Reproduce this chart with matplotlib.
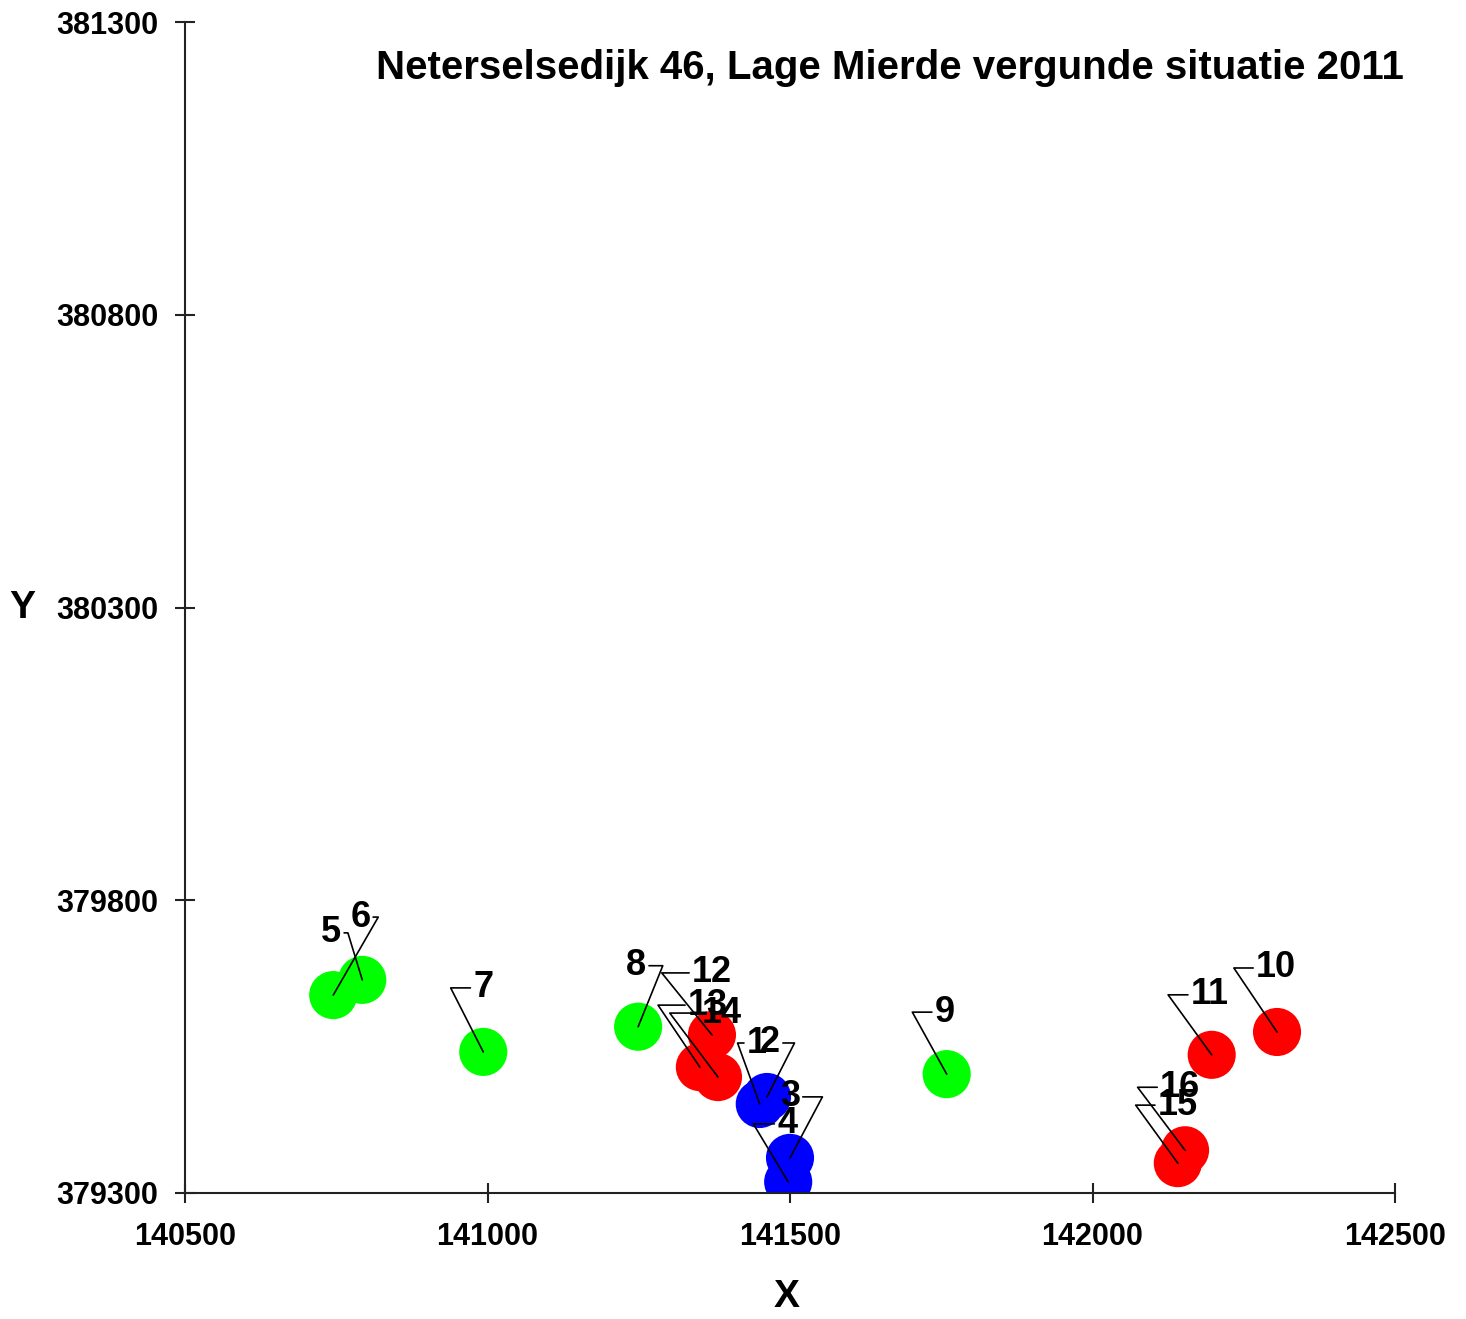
import matplotlib
matplotlib.use('Agg')
import matplotlib.pyplot as plt

plt.rcParams['font.family'] = ['Liberation Sans', 'DejaVu Sans']
plt.rcParams['font.weight'] = 'bold'

titel = 'Neterselsedijk 46, Lage Mierde vergunde situatie 2011'

### bronnen / receptoren ###
nummers = [1, 2, 3, 4, 5, 6, 7, 8, 9, 10, 11, 12, 13, 14, 15, 16]
x_coord = [141450, 141462, 141500, 141497, 140793, 140745, 140993, 141249,
           141759, 142305, 142197, 141371, 141351, 141381, 142141, 142153]
y_coord = [379452, 379464, 379360, 379319, 379664, 379638, 379541, 379584,
           379503, 379575, 379536, 379570, 379515, 379498, 379351, 379373]
groep = ['blauw'] * 4 + ['groen'] * 5 + ['rood'] * 7

x_ticks = [140500, 141000, 141500, 142000, 142500]
y_ticks = [379300, 379800, 380300, 380800, 381300]

kleur = {'blauw': '#0000FF', 'groen': '#00FF00', 'rood': '#FF0000'}

# label offset (pixels) en hoek van de verbindingslijn
label_dx = [-3, 3, 0, -1, -31, 27, 0, -2, -2, -1, -2, 0, 8, 4, 0, -5]
label_dy = [61, 54, 61, 58, 47, 78, 64, 61, 62, 64, 60, 62, 62, 64, 58, 63]
hoek = [110, 63, 62, 121, 107, 60, 117, 68, 119, 124, 126, 129, 124, 127, 126, 127]

fig = plt.figure(figsize=(14.66, 13.19), dpi=100)
ax = fig.add_axes([185/1466, 1 - 1193/1319, 1210/1466, 1171/1319])

ax.scatter(x_coord, y_coord, s=1200, c=[kleur[g] for g in groep],
           edgecolors='none', zorder=2)

for i in range(len(nummers)):
    ax.annotate(str(nummers[i]), xy=(x_coord[i], y_coord[i]),
                xytext=(label_dx[i], label_dy[i]), textcoords='offset pixels',
                ha='center', va='center', fontsize=26, fontweight='bold',
                arrowprops=dict(arrowstyle='-', color='black', lw=1.2,
                                shrinkA=0, shrinkB=0,
                                connectionstyle='angle,angleA=0,angleB=%d,rad=0' % hoek[i]),
                zorder=4)

ax.set_xlim(140500, 142500)
ax.set_ylim(379300, 381300)
ax.set_xticks(x_ticks)
ax.set_yticks(y_ticks)
ax.set_xticklabels([str(v) for v in x_ticks], fontsize=22, fontweight='bold')
ax.set_yticklabels([str(v) for v in y_ticks], fontsize=22, fontweight='bold')
ax.tick_params(direction='inout', length=14, width=1.5, color='#222222')
ax.tick_params(axis='y', pad=12)
ax.tick_params(axis='x', pad=14)

ax.spines['top'].set_visible(False)
ax.spines['right'].set_visible(False)
ax.spines['left'].set_linewidth(1.5)
ax.spines['bottom'].set_linewidth(1.5)
ax.spines['left'].set_color('#222222')
ax.spines['bottom'].set_color('#222222')

ax.set_xlabel('X', fontsize=28, fontweight='bold', va='center')
ax.set_ylabel('Y', fontsize=28, fontweight='bold', rotation=0, va='center', ha='center')
ax.xaxis.set_label_coords(0.4975, -0.0888)
ax.yaxis.set_label_coords(-0.1347, 0.5)

ax.text(0.5822, 0.9607, titel, transform=ax.transAxes, ha='center', va='center',
        fontsize=29, fontweight='bold')

fig.savefig('out.png', dpi=100)
plt.close()
